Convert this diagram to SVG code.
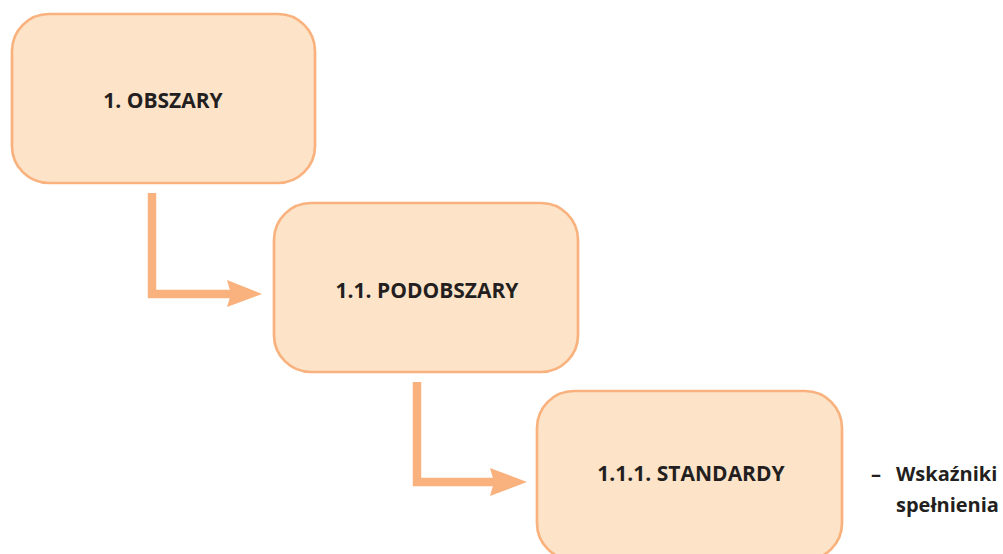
<svg xmlns="http://www.w3.org/2000/svg" width="1003" height="554" viewBox="0 0 1003 554">
<style>
.box{fill:#fde4c9;stroke:#f9b27e;stroke-width:2.7}
.lbl{font-family:"Open Sans","DejaVu Sans",sans-serif;font-weight:700;font-size:21px;fill:#231f20;text-anchor:middle}
.side{font-family:"Open Sans","DejaVu Sans",sans-serif;font-weight:700;font-size:20px;fill:#231f20}
.conn{fill:none;stroke:#f9b27e;stroke-width:8.5}
.head{fill:#f9b27e}
</style>
<rect width="1003" height="554" fill="#ffffff"/>
<g id="connectors">
<polyline class="conn" points="152,193 152,294 232,294"/>
<path class="head" d="M227,280 L262,294 L227,307 L231,294 Z"/>
<polyline class="conn" points="417,382 417,482 494,482"/>
<path class="head" d="M490,468 L527,482 L490,496 L494,482 Z"/>
</g>
<g id="node-obszary">
<rect class="box" x="12" y="14" width="303" height="169" rx="37" ry="37"/>
<text class="lbl" x="163" y="108">1. OBSZARY</text>
</g>
<g id="node-podobszary">
<rect class="box" x="274" y="203" width="304" height="169" rx="37" ry="37"/>
<text class="lbl" x="427" y="298">1.1. PODOBSZARY</text>
</g>
<g id="node-standardy">
<rect class="box" x="537" y="391" width="305" height="169" rx="37" ry="37"/>
<text class="lbl" x="691" y="481">1.1.1. STANDARDY</text>
</g>
<g id="note">
<text class="side" x="871" y="481">–</text>
<text class="side" x="896" y="481">Wskaźniki</text>
<text class="side" x="896" y="512">spełnienia</text>
</g>
</svg>
